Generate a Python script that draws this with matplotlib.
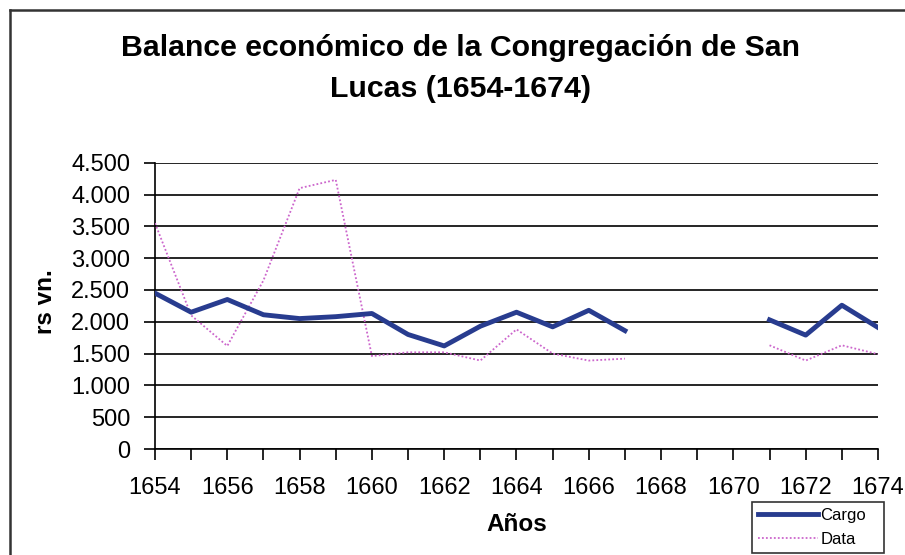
import matplotlib
matplotlib.use("Agg")
import matplotlib.pyplot as plt
import numpy as np
from matplotlib.lines import Line2D
from matplotlib.ticker import FuncFormatter, MultipleLocator

plt.rcParams['font.family'] = ['Liberation Sans', 'DejaVu Sans']

years = list(range(1654, 1675))
cargo = [2450, 2150, 2350, 2110, 2050, 2080, 2130, 1800, 1620, 1930, 2150, 1920, 2180, 1860,
         None, None, None, 2030, 1790, 2260, 1910]
data = [3550, 2100, 1620, 2650, 4100, 4230, 1460, 1520, 1520, 1390, 1880, 1500, 1390, 1420,
        None, None, None, 1630, 1390, 1630, 1490]

cargo_arr = np.array([np.nan if v is None else v for v in cargo], dtype=float)
data_arr = np.array([np.nan if v is None else v for v in data], dtype=float)

W, H = 905, 555
fig = plt.figure(figsize=(W / 100, H / 100), dpi=100)
ax = fig.add_axes([155 / W, 1 - 449 / H, (878 - 155) / W, (449 - 162.7) / H])

ax.plot(years, data_arr, color='#CC66CC', lw=1.3, ls=(0, (1, 1.2)), label='Data', zorder=3)
ax.plot(years, cargo_arr, color='#283C8F', lw=3.5, label='Cargo', zorder=4)

ax.set_xlim(1654, 1674)
ax.set_ylim(0, 4500)
ax.yaxis.set_major_locator(MultipleLocator(500))
ax.set_xticks(years)
ax.set_xticklabels([str(y) if (y - 1654) % 2 == 0 else '' for y in years])
ax.yaxis.set_major_formatter(FuncFormatter(lambda v, p: f"{int(v):,}".replace(',', '.')))
ax.grid(axis='y', color='black', lw=1.2, zorder=1)
ax.set_axisbelow(True)
for s in ['top', 'right']:
    ax.spines[s].set_visible(False)
for s in ['left', 'bottom']:
    ax.spines[s].set_color('black')
    ax.spines[s].set_linewidth(1.2)
ax.tick_params(axis='both', direction='out', length=8, width=1.2, labelsize=17, colors='black')
ax.tick_params(axis='y', pad=10)
ax.tick_params(axis='x', pad=12)

ax.set_xlabel('Años', fontsize=17.5, fontweight='bold', labelpad=10)
fig.text(45 / W, 1 - 302 / H, 'rs vn.', fontsize=17.5, fontweight='bold', rotation=90,
         ha='center', va='center')

fig.text(460 / W, 1 - 48 / H, 'Balance económico de la Congregación de San', fontsize=21.8,
         fontweight='bold', ha='center', va='center')
fig.text(460 / W, 1 - 89 / H, 'Lucas (1654-1674)', fontsize=21.8,
         fontweight='bold', ha='center', va='center')

# outer border (left and top visible)
fig.add_artist(Line2D([10 / W, 10 / W], [0, 1 - 10 / H], color='#333333', lw=1.8,
                      transform=fig.transFigure))
fig.add_artist(Line2D([10 / W, 1], [1 - 10 / H, 1 - 10 / H], color='#333333', lw=1.8,
                      transform=fig.transFigure))

handles = [Line2D([], [], color='#283C8F', lw=3.5),
           Line2D([], [], color='#CC66CC', lw=1.3, ls=(0, (1, 1.2)))]
leg = fig.legend(handles, ['Cargo', 'Data'], loc='upper left',
                 bbox_to_anchor=(752 / W, 1 - 560 / H, 132 / W, 58 / H), mode='expand',
                 fontsize=12, frameon=True,
                 fancybox=False, edgecolor='black', handlelength=3.6, handletextpad=0.15,
                 borderpad=0.35, labelspacing=0.55, borderaxespad=0)
leg.get_frame().set_linewidth(1.2)

fig.savefig('out.png', dpi=100)
